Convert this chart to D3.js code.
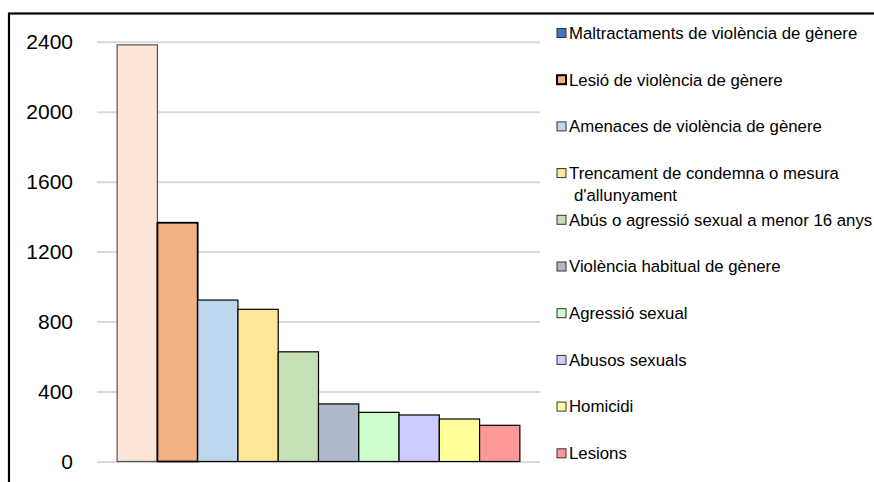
<!DOCTYPE html>
<html>
<head>
<meta charset="utf-8">
<script src="https://cdn.jsdelivr.net/npm/d3@7"></script>
<style>
  body { margin: 0; background: #fff; }
  svg { display: block; font-family: "Liberation Sans", Arial, sans-serif; }
</style>
</head>
<body>
<div id="chart"></div>
<script>
// Categories (legend order = bar order)
let categories = [
    "Maltractaments de violència de gènere",
    "Lesió de violència de gènere",
    "Amenaces de violència de gènere",
    "Trencament de condemna o mesura\nd'allunyament",
    "Abús o agressió sexual a menor 16 anys",
    "Violència habitual de gènere",
    "Agressió sexual",
    "Abusos sexuals",
    "Homicidi",
    "Lesions"
];
let values = [2382, 1365, 923, 870, 627, 329, 281, 266, 243, 207];
let barColors = ["#FBE5D6", "#F4B183", "#BDD7EE", "#FFE699", "#C5E0B4",
    "#ADB9CA", "#CCFFCC", "#CCCCFF", "#FFFF99", "#FF9999"];
let legendColors = ["#4472C4", "#F4B183", "#BDD7EE", "#FFE699", "#C5E0B4",
    "#ADB9CA", "#CCFFCC", "#CCCCFF", "#FFFF99", "#FF9999"];
let yTicks = [0, 400, 800, 1200, 1600, 2000, 2400];

let width = 874, height = 482;
let plot = {left: 97, right: 540, top: 41.7, bottom: 461.5};

let svg = d3.select("#chart")
    .append("svg")
    .attr("width", width)
    .attr("height", height);

// Outer frame (runs off the right and bottom edges)
svg.append("rect")
    .attr("x", 9).attr("y", 13.5)
    .attr("width", 900).attr("height", 500)
    .attr("fill", "none")
    .attr("stroke", "#000")
    .attr("stroke-width", 2.2);

let x = d3.scaleBand()
    .domain(categories)
    .range([plot.left, plot.right])
    .paddingInner(0)
    .paddingOuter(0.5);

let y = d3.scaleLinear()
    .domain([0, 2400])
    .range([plot.bottom, plot.top]);

// Gridlines + tick labels
let yAxis = svg.append("g")
    .attr("transform", `translate(${plot.left}, 0)`)
    .call(d3.axisLeft(y).tickValues(yTicks)
        .tickSize(-(plot.right - plot.left))
        .tickPadding(24)
        .tickFormat(d3.format("d")));
yAxis.select(".domain").remove();
yAxis.selectAll(".tick line")
    .attr("stroke", "#d9d9d9")
    .attr("stroke-width", 2);
yAxis.selectAll(".tick text")
    .attr("fill", "#000")
    .style("font-size", "21px")
    .style("font-family", "'Liberation Sans', Arial, sans-serif");

// Bars
svg.append("g").selectAll("rect")
    .data(values)
    .enter()
    .append("rect")
    .attr("x", function(d, i) { return x(categories[i]); })
    .attr("y", function(d) { return y(d); })
    .attr("width", x.bandwidth())
    .attr("height", function(d) { return y(0) - y(d); })
    .attr("fill", function(d, i) { return barColors[i]; })
    .attr("stroke", function(d, i) { return i === 0 ? "#555" : "#000"; })
    .attr("stroke-width", function(d, i) { return i === 1 ? 1.8 : 1.2; });

// Legend
let legendX = 557, legendTop = 33, legendStep = 46.7;
let legend = svg.append("g").selectAll("g")
    .data(categories)
    .enter()
    .append("g")
    .attr("transform", function(d, i) { return `translate(${legendX}, ${legendTop + i * legendStep})`; });

legend.append("rect")
    .attr("x", 0).attr("y", -4.5)
    .attr("width", 9).attr("height", 9)
    .attr("fill", function(d, i) { return legendColors[i]; })
    .attr("stroke", function(d, i) { return i === 1 ? "#000" : "#333"; })
    .attr("stroke-width", function(d, i) { return i === 1 ? 2 : 1; });

legend.append("text")
    .attr("x", 12)
    .attr("y", 0)
    .style("font-size", "16.8px")
    .attr("fill", "#000")
    .each(function(d) {
        let lines = d.split("\n");
        let t = d3.select(this);
        lines.forEach(function(line, j) {
            t.append("tspan")
                .attr("x", j === 0 ? 12 : 17)
                .attr("dy", j === 0 ? "0.35em" : 22.5)
                .text(line);
        });
    });
</script>
</body>
</html>
